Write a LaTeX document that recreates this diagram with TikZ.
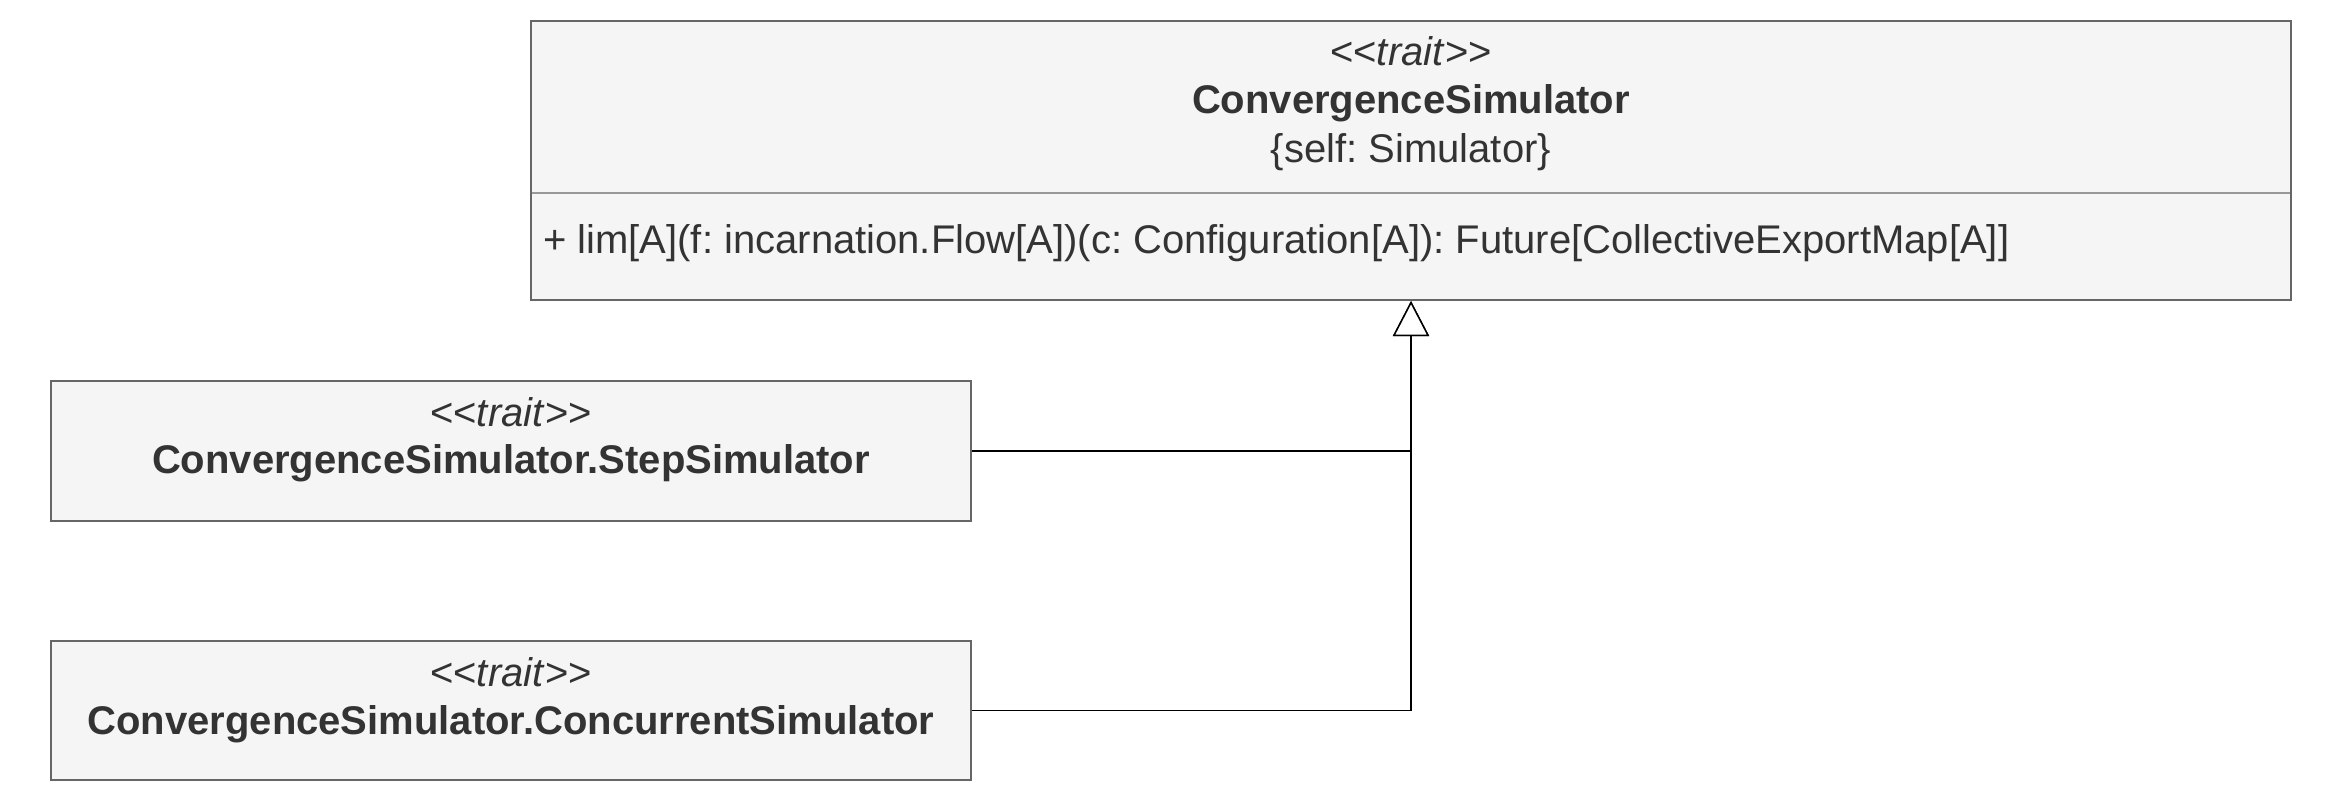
\documentclass[tikz,border=0pt]{standalone}
\usepackage{fontspec}
\setmainfont{Liberation Sans}
\usepackage{xcolor}
\usepackage{tikz}
\usetikzlibrary{arrows.meta,positioning}

\definecolor{boxfill}{HTML}{F5F5F5}
\definecolor{boxline}{HTML}{666666}
\definecolor{sepline}{HTML}{999999}
\definecolor{txt}{HTML}{333333}

\newcommand{\traittag}{<\kern0pt<\textit{trait}>\kern0pt>}
\frenchspacing

\begin{document}
\begin{tikzpicture}[x=1pt,y=-1pt,
  umlbox/.style={draw=boxline, fill=boxfill, line width=2pt, inner sep=0pt},
  lbl/.style={anchor=base, inner sep=0pt, text=txt, font=\fontsize{40}{48}\selectfont},
  title/.style={lbl, font=\fontsize{40}{48}\selectfont\bfseries},
  inherit/.style={line width=1.5pt, -{Triangle[open,fill=white,length=35pt,width=36pt]}}]
  \useasboundingbox (0,0) rectangle (2340,800);

  % the trait and its one method
  \node[umlbox, minimum width=1760pt, minimum height=279pt] (sim) at (1411,160.5) {};
  \draw[sepline, line width=1.5pt] (532,193) -- (2290,193);
  \node[lbl] (simtag) at (1411,66) {\traittag};
  \node[title] (simname) at (1411,113.5) {ConvergenceSimulator};
  \node[lbl] (simself) at (1411,162.5) {\{self: Simulator\}};
  \node[lbl, anchor=base west] (simop) at (543,253)
    {+ lim[A](f: incarnation.Flow[A])(c: Configuration[A]): Future[CollectiveExportMap[A]]};

  % sub traits
  \node[umlbox, minimum width=920pt, minimum height=140pt] (step) at (511,451) {};
  \node[lbl] (steptag) at (511,426) {\traittag};
  \node[title] (stepname) at (511,473.5) {ConvergenceSimulator.StepSimulator};

  \node[umlbox, minimum width=920pt, minimum height=139pt] (conc) at (511,710.5) {};
  \node[lbl] (conctag) at (511,686) {\traittag};
  \node[title] (concname) at (511,734.5) {ConvergenceSimulator.ConcurrentSimulator};

  \draw[inherit] (step.east) -| (sim.south);
  \draw[inherit] (conc.east) -| (sim.south);
\end{tikzpicture}
\end{document}
